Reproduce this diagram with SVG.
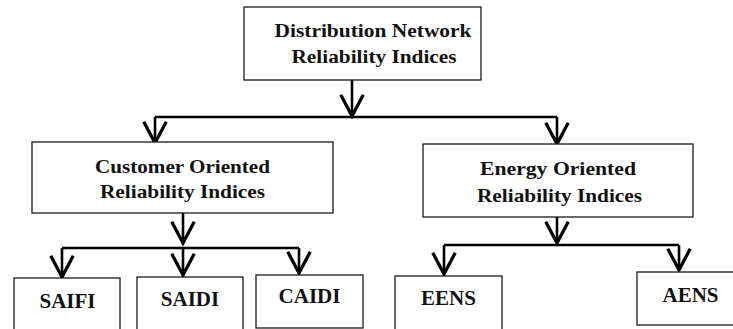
<svg xmlns="http://www.w3.org/2000/svg" width="733" height="329" viewBox="0 0 733 329">
<style>
.box{fill:#fff;stroke:#1a1a1a;stroke-width:1.3}
.t{font-family:"Liberation Serif","Times New Roman",serif;font-weight:bold;fill:#111;text-anchor:middle}
.h{font-size:19.5px}
.s{font-size:21px}
.c{fill:none;stroke:#000;stroke-width:2.6}
.a{fill:none;stroke:#000;stroke-width:2.6;marker-end:url(#arr)}
</style>
<defs>
<marker id="arr" markerUnits="userSpaceOnUse" orient="auto" refX="0" refY="0" markerWidth="30" markerHeight="30" viewBox="-20 -12 22 24" overflow="visible">
<path d="M-17,-9 L0,0 L-17,9" fill="none" stroke="#000" stroke-width="2.6" stroke-linejoin="miter"/>
</marker>
</defs>
<rect width="733" height="329" fill="#fff"/>
<g id="connectors">
<path class="a" d="M352,80 V116"/>
<path class="c" d="M155,117 H557"/>
<path class="a" d="M155,117 V143"/>
<path class="a" d="M557,117 V144"/>
<path class="a" d="M183,213 V243"/>
<path class="c" d="M62,248 H299"/>
<path class="a" d="M62,248 V277"/>
<path class="a" d="M183,248 V275"/>
<path class="a" d="M299,248 V273"/>
<path class="a" d="M557,217 V243"/>
<path class="c" d="M444,245 H679"/>
<path class="a" d="M444,245 V274"/>
<path class="a" d="M679,245 V270"/>
</g>
<g id="root">
<rect class="box" x="244" y="7" width="237" height="73"/>
<text class="t h" x="373" y="37" textLength="197" lengthAdjust="spacingAndGlyphs">Distribution Network</text>
<text class="t h" x="374" y="63" textLength="165" lengthAdjust="spacingAndGlyphs">Reliability Indices</text>
</g>
<g id="customer">
<rect class="box" x="32" y="142" width="301" height="71"/>
<text class="t h" x="182.5" y="173" textLength="175" lengthAdjust="spacingAndGlyphs">Customer Oriented</text>
<text class="t h" x="182.5" y="198" textLength="165" lengthAdjust="spacingAndGlyphs">Reliability Indices</text>
</g>
<g id="energy">
<rect class="box" x="423" y="144" width="270" height="73"/>
<text class="t h" x="558" y="175" textLength="156" lengthAdjust="spacingAndGlyphs">Energy Oriented</text>
<text class="t h" x="559.5" y="202" textLength="165" lengthAdjust="spacingAndGlyphs">Reliability Indices</text>
</g>
<g id="saifi">
<rect class="box" x="14" y="278" width="106" height="62"/>
<text class="t s" x="67.5" y="308">SAIFI</text>
</g>
<g id="saidi">
<rect class="box" x="137" y="277" width="106" height="63"/>
<text class="t s" x="190" y="306">SAIDI</text>
</g>
<g id="caidi">
<rect class="box" x="256" y="275" width="107" height="53"/>
<text class="t s" x="309.5" y="303">CAIDI</text>
</g>
<g id="eens">
<rect class="box" x="395" y="276" width="107" height="64"/>
<text class="t s" x="448.5" y="305">EENS</text>
</g>
<g id="aens">
<rect class="box" x="637" y="272" width="110" height="53"/>
<text class="t s" x="690.5" y="302">AENS</text>
</g>
</svg>
